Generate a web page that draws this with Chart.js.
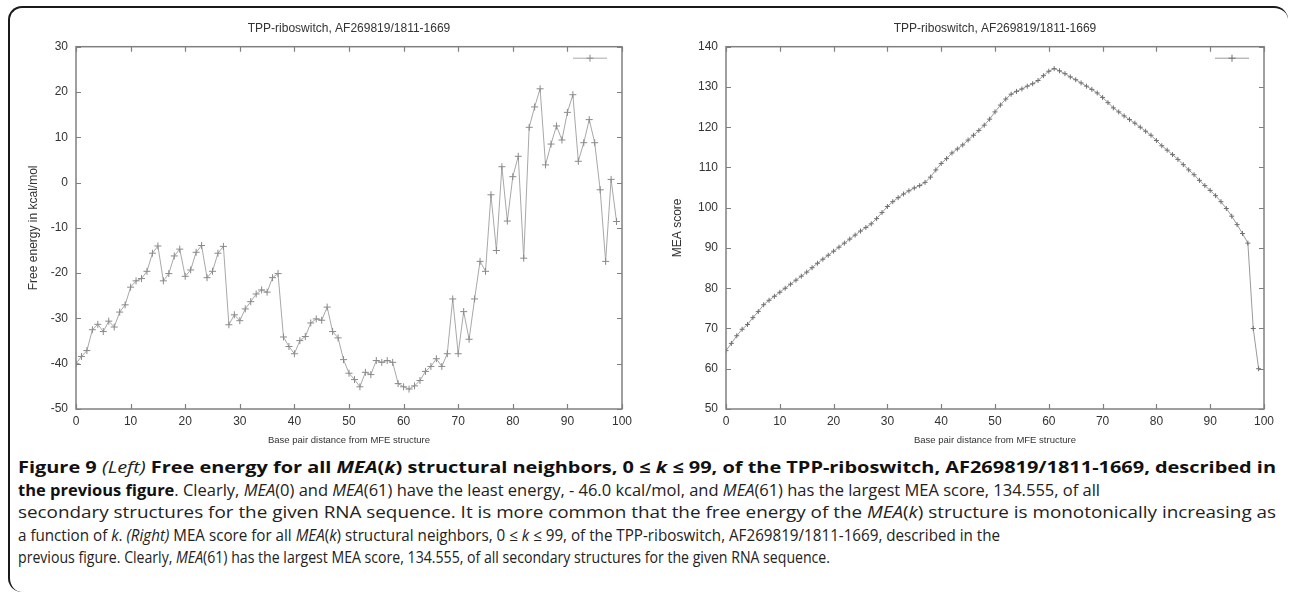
<!DOCTYPE html>
<html>
<head>
<meta charset="utf-8">
<script src="https://cdn.jsdelivr.net/npm/chart.js@4.4.1/dist/chart.umd.min.js"></script>
<style>
  html, body { margin:0; padding:0; background:#fff; }
  body { width:1290px; height:598px; position:relative; overflow:hidden; }
  #box { position:absolute; left:8px; top:6px; width:1280px; height:586px;
         border-top:2px solid #1a1a1a; border-left:2px solid #1a1a1a;
         border-radius:14px; box-sizing:border-box; }
  #c1 { position:absolute; left:0; top:0; }
  #c2 { position:absolute; left:645px; top:0; }
  .cl { position:absolute; left:18px; font-family:"Open Sans", sans-serif;
        font-size:16px; line-height:22px; color:#222; white-space:nowrap; }
  .cl span { display:inline-block; transform-origin:0 50%; }
  .cl b { color:#111; }
</style>
</head>
<body>
<div id="box"></div>
<canvas id="c1" width="645" height="455"></canvas>
<canvas id="c2" width="645" height="455"></canvas>
<div class="cl" style="top:456px"><span><b>Figure 9</b> <i>(Left)</i> <b>Free energy for all <i>MEA</i>(<i>k</i>) structural neighbors, 0 ≤ <i>k</i> ≤ 99, of the TPP-riboswitch, AF269819/1811-1669, described in</b></span></div>
<div class="cl" style="top:478.5px"><span><b>the previous figure</b>. Clearly, <i>MEA</i>(0) and <i>MEA</i>(61) have the least energy, - 46.0 kcal/mol, and <i>MEA</i>(61) has the largest MEA score, 134.555, of all</span></div>
<div class="cl" style="top:501px"><span>secondary structures for the given RNA sequence. It is more common that the free energy of the <i>MEA</i>(<i>k</i>) structure is monotonically increasing as</span></div>
<div class="cl" style="top:523.5px"><span>a function of <i>k</i>. <i>(Right)</i> MEA score for all <i>MEA</i>(<i>k</i>) structural neighbors, 0 ≤ <i>k</i> ≤ 99, of the TPP-riboswitch, AF269819/1811-1669, described in the</span></div>
<div class="cl" style="top:546px"><span>previous figure. Clearly, <i>MEA</i>(61) has the largest MEA score, 134.555, of all secondary structures for the given RNA sequence.</span></div>
<script>
// ---- data ----
const distances = [0,1,2,3,4,5,6,7,8,9,10,11,12,13,14,15,16,17,18,19,20,21,22,23,24,25,26,27,28,29,
  30,31,32,33,34,35,36,37,38,39,40,41,42,43,44,45,46,47,48,49,50,51,52,53,54,55,56,57,58,59,
  60,61,62,63,64,65,66,67,68,69,70,71,72,73,74,75,76,77,78,79,80,81,82,83,84,85,86,87,88,89,
  90,91,92,93,94,95,96,97,98,99];

const freeEnergy = [-40.0, -38.4, -37.1, -32.5, -31.3, -32.9, -30.6, -31.9, -28.6, -27.0,
  -23.1, -21.7, -21.2, -19.6, -15.6, -14.0, -21.7, -20.1, -16.2, -14.7,
  -20.7, -19.3, -15.4, -13.9, -21.0, -19.6, -15.6, -14.1, -31.4, -29.2,
  -30.5, -27.9, -26.3, -24.6, -23.7, -24.2, -21.0, -20.1, -34.1, -36.2,
  -37.8, -34.9, -34.0, -31.0, -30.1, -30.4, -27.5, -32.9, -34.3, -39.1,
  -42.1, -43.5, -45.1, -41.9, -42.4, -39.3, -39.7, -39.3, -39.7, -44.4,
  -45.1, -45.6, -44.9, -43.7, -41.7, -40.6, -38.9, -40.6, -37.8, -25.7,
  -37.8, -28.5, -34.6, -25.7, -17.4, -19.6, -2.7, -15.0, 3.5, -8.5,
  1.3, 5.8, -16.7, 12.2, 16.7, 20.7, 3.9, 8.5, 12.5, 9.4,
  15.5, 19.4, 4.7, 8.8, 13.9, 8.8, -1.6, -17.4, 0.7, -8.6];

const meaScore = [64.5, 66.3, 68.2, 69.8, 71.0, 72.7, 74.2, 75.9, 77.0, 78.0,
  79.0, 80.0, 81.0, 82.0, 83.0, 84.0, 85.1, 86.2, 87.2, 88.2,
  89.2, 90.2, 91.2, 92.2, 93.2, 94.2, 95.1, 96.0, 97.3, 98.8,
  100.3, 101.5, 102.5, 103.4, 104.2, 104.9, 105.5, 106.3, 107.6, 109.4,
  111.0, 112.2, 113.6, 114.6, 115.6, 116.8, 118.0, 119.2, 120.5, 122.0,
  123.8, 125.5, 127.0, 128.2, 128.9, 129.5, 130.2, 130.8, 131.6, 132.8,
  133.9, 134.555, 134.0, 133.3, 132.5, 131.8, 131.0, 130.2, 129.4, 128.5,
  127.4, 126.1, 124.8, 123.8, 122.8, 121.9, 121.0, 120.0, 119.0, 118.0,
  116.7, 115.4, 114.3, 113.2, 112.0, 110.7, 109.4, 108.2, 106.8, 105.5,
  104.3, 103.0, 101.5, 99.8, 97.9, 95.8, 93.6, 91.2, 70.0, 60.0];

const chartTitle = 'TPP-riboswitch, AF269819/1811-1669';
const xTitle = 'Base pair distance from MFE structure';
const leftYTitle = 'Free energy in kcal/mol';
const rightYTitle = 'MEA score';
const xTicks = [0, 10, 20, 30, 40, 50, 60, 70, 80, 90, 100];
const leftYRange = [-50, 30];
const rightYRange = [50, 140];

// caption line widths measured on the reference (layout only)
const captionWidths = [1258, 1082, 1258, 982, 812];
document.querySelectorAll('.cl span').forEach((s, i) => {
  const w = s.getBoundingClientRect().width;
  s.style.transform = 'scaleX(' + (captionWidths[i] / w) + ')';
});

// ---- rendering ----
const FONT = '"Liberation Sans", Arial, sans-serif';
const TXT = '#333';

const framePlugin = {
  id: 'gnuFrame',
  afterDatasetsDraw(chart) {
    const { ctx, chartArea: a, scales: { x, y } } = chart;
    const ds = chart.data.datasets[0];
    ctx.save();
    ctx.strokeStyle = '#808080';
    ctx.lineWidth = 1.5;
    ctx.strokeRect(a.left, a.top, a.right - a.left, a.bottom - a.top);
    ctx.lineWidth = 1.2;
    const L = 5;
    ctx.beginPath();
    x.ticks.forEach(t => {
      const px = Math.round(x.getPixelForValue(t.value)) + 0.5;
      ctx.moveTo(px, a.bottom); ctx.lineTo(px, a.bottom - L);
      ctx.moveTo(px, a.top); ctx.lineTo(px, a.top + L);
    });
    y.ticks.forEach(t => {
      const py = Math.round(y.getPixelForValue(t.value)) + 0.5;
      ctx.moveTo(a.left, py); ctx.lineTo(a.left + L, py);
      ctx.moveTo(a.right, py); ctx.lineTo(a.right - L, py);
    });
    ctx.stroke();
    // key sample (gnuplot style, no text)
    const ky = a.top + 11.5;
    const kx1 = a.right - 49, kx2 = a.right - 15, km = (kx1 + kx2) / 2;
    ctx.strokeStyle = ds.borderColor;
    ctx.lineWidth = 1;
    ctx.beginPath();
    ctx.moveTo(kx1, ky); ctx.lineTo(kx2, ky);
    ctx.stroke();
    ctx.strokeStyle = ds.pointBorderColor;
    ctx.beginPath();
    ctx.moveTo(km - 3.5, ky); ctx.lineTo(km + 3.5, ky);
    ctx.moveTo(km, ky - 3.5); ctx.lineTo(km, ky + 3.5);
    ctx.stroke();
    ctx.restore();
  }
};

function makeChart(id, values, yRange, yTitle, yWidth, yTitlePad, rightPad, lineColor, ptColor, ptRadius) {
  const points = distances.map((d, i) => ({ x: d, y: values[i] }));
  return new Chart(document.getElementById(id), {
    type: 'line',
    data: {
      datasets: [{
        data: points,
        borderColor: lineColor,
        borderWidth: 1,
        pointStyle: 'cross',
        pointRadius: ptRadius,
        pointBorderColor: ptColor,
        pointBorderWidth: 1,
        pointBackgroundColor: ptColor,
        tension: 0,
        fill: false
      }]
    },
    options: {
      responsive: false,
      animation: false,
      events: [],
      layout: { padding: { left: 0, right: rightPad, top: 0, bottom: 0 } },
      plugins: {
        legend: { display: false },
        tooltip: { enabled: false },
        title: {
          display: true, text: chartTitle, fullSize: false, color: TXT,
          font: { family: FONT, size: 12, weight: 'normal', lineHeight: 1.2 },
          padding: { top: 21, bottom: 11.3 }
        }
      },
      scales: {
        x: {
          type: 'linear', min: 0, max: 100,
          afterBuildTicks: s => { s.ticks = xTicks.map(v => ({ value: v })); },
          afterFit: s => { s.height = 46; },
          grid: { display: false, drawTicks: false },
          border: { display: false },
          ticks: { color: TXT, padding: 5, maxRotation: 0, font: { family: FONT, size: 12 } },
          title: { display: true, text: xTitle, color: TXT, font: { family: FONT, size: 9.5 },
                   padding: { top: 0, bottom: 9 } }
        },
        y: {
          type: 'linear', min: yRange[0], max: yRange[1],
          ticks: { stepSize: 10, color: TXT, padding: 8, font: { family: FONT, size: 12 } },
          afterFit: s => { s.width = yWidth; },
          grid: { display: false, drawTicks: false },
          border: { display: false },
          title: { display: true, text: yTitle, color: TXT, font: { family: FONT, size: 12 },
                   padding: { top: yTitlePad, bottom: 0 } }
        }
      }
    },
    plugins: [framePlugin]
  });
}

makeChart('c1', freeEnergy, leftYRange, leftYTitle, 76, 26, 23, '#a8a8a8', '#8a8a8a', 3.5);
makeChart('c2', meaScore, rightYRange, rightYTitle, 81, 25, 26, '#9a9a9a', '#707070', 2.5);
</script>
</body>
</html>
